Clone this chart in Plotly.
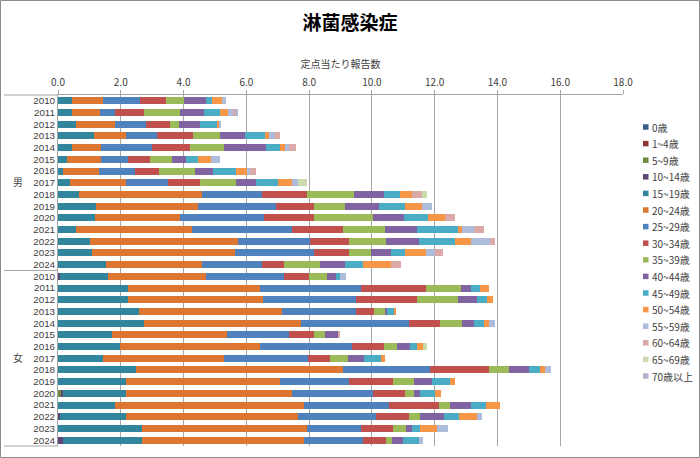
import plotly.graph_objects as go

title_text = "淋菌感染症"
axis_title = "定点当たり報告数"
groups = ["男"] * 15 + ["女"] * 15
years = [str(y) for y in range(2010, 2025)] * 2

age_labels = ["0歳", "1~4歳", "5~9歳", "10~14歳", "15~19歳", "20~24歳", "25~29歳",
              "30~34歳", "35~39歳", "40~44歳", "45~49歳", "50~54歳", "55~59歳",
              "60~64歳", "65~69歳", "70歳以上"]

# values: 男 2010..2024, then 女 2010..2024
age_0 = [0] * 30
age_1_4 = [0] * 30
age_5_9 = [0] * 15 + [0, 0, 0, 0, 0, 0, 0, 0, 0, 0, 0.08, 0, 0, 0, 0]
age_10_14 = [0] * 15 + [0.07, 0, 0, 0, 0, 0, 0, 0, 0, 0, 0.08, 0, 0.07, 0, 0.16]
age_15_19 = [0.45, 0.45, 0.58, 1.15, 0.45, 0.30, 0.16, 0.38, 0.66, 1.22, 1.17, 0.58, 1.01, 1.08, 1.52,
             1.52, 2.22, 2.22, 2.58, 2.73, 1.72, 1.99, 1.44, 2.50, 2.16, 2.00, 1.81, 2.09, 2.68, 2.52]
age_20_24 = [0.98, 0.90, 1.25, 1.01, 0.91, 1.06, 1.15, 1.78, 3.92, 3.24, 2.71, 3.69, 4.71, 4.56, 3.06,
             3.14, 4.21, 4.30, 4.57, 5.00, 3.67, 4.44, 3.85, 6.58, 4.91, 5.31, 6.03, 5.47, 5.24, 5.16]
age_25_29 = [1.19, 0.46, 0.98, 0.98, 1.64, 0.86, 1.14, 1.35, 1.91, 2.48, 2.69, 3.19, 2.31, 2.51, 1.91,
             2.47, 3.22, 2.98, 2.34, 3.44, 1.98, 2.93, 2.66, 2.78, 2.21, 2.55, 2.72, 2.50, 1.73, 1.89]
age_30_34 = [0.82, 0.93, 0.75, 1.15, 1.22, 0.72, 0.78, 1.01, 1.44, 1.21, 1.57, 1.63, 1.25, 1.12, 0.71,
             0.81, 2.07, 1.94, 0.57, 0.99, 0.77, 1.01, 0.70, 1.86, 1.38, 1.04, 1.59, 1.04, 1.01, 0.71]
age_35_39 = [0.56, 1.15, 0.31, 0.87, 1.06, 0.70, 1.14, 1.15, 1.50, 0.99, 1.88, 1.33, 1.16, 0.71, 1.14,
             0.57, 1.13, 1.30, 0.37, 0.71, 0.37, 0.43, 0.58, 0.66, 0.69, 0.27, 0.34, 0.35, 0.42, 0.21]
age_40_44 = [0.72, 0.77, 0.64, 0.79, 1.36, 0.43, 0.56, 0.64, 0.94, 1.09, 0.99, 1.03, 1.06, 0.64, 0.80,
             0.28, 0.32, 0.62, 0.06, 0.37, 0.43, 0.40, 0.51, 0.64, 0.58, 0.19, 0.66, 0.77, 0.21, 0.35]
age_45_49 = [0.20, 0.51, 0.58, 0.63, 0.43, 0.39, 0.74, 0.71, 0.51, 0.83, 0.78, 1.28, 1.15, 0.45, 0.58,
             0.13, 0.29, 0.30, 0.21, 0.32, 0, 0.23, 0.55, 0.32, 0.56, 0.50, 0.49, 0.50, 0.23, 0.51]
age_50_54 = [0.29, 0.24, 0.03, 0.15, 0.16, 0.40, 0.34, 0.43, 0.39, 0.53, 0.55, 0.14, 0.51, 0.64, 0.90,
             0, 0.27, 0.20, 0.07, 0.18, 0, 0.21, 0.14, 0.16, 0.16, 0.18, 0.43, 0.55, 0.57, 0]
age_55_59 = [0.15, 0.15, 0.08, 0.19, 0.12, 0.29, 0.10, 0.21, 0, 0.32, 0, 0.37, 0.61, 0.30, 0,
             0.17, 0, 0, 0, 0.19, 0, 0, 0, 0.21, 0, 0, 0, 0.16, 0.32, 0.13]
age_60_64 = [0, 0.10, 0, 0.16, 0.23, 0, 0.19, 0, 0.32, 0, 0.32, 0.32, 0.16, 0.26, 0.30,
             0, 0, 0, 0, 0, 0.05, 0, 0, 0, 0, 0, 0, 0, 0, 0]
age_65_69 = [0, 0, 0, 0, 0, 0, 0, 0.27, 0.18, 0, 0, 0, 0, 0, 0,
             0, 0, 0, 0, 0, 0, 0.13, 0, 0, 0, 0, 0, 0, 0, 0]
age_70 = [0, 0.06, 0, 0, 0, 0, 0, 0, 0, 0, 0, 0, 0, 0, 0,
          0, 0, 0, 0, 0, 0, 0, 0, 0, 0, 0, 0, 0, 0, 0]

series = [age_0, age_1_4, age_5_9, age_10_14, age_15_19, age_20_24, age_25_29, age_30_34,
          age_35_39, age_40_44, age_45_49, age_50_54, age_55_59, age_60_64, age_65_69, age_70]

colors = ["#385D8A", "#8C3836", "#71893F", "#5C4776", "#31859C", "#DC7630",
          "#4F81BD", "#C0504D", "#9BBB59", "#8064A2", "#4BACC6", "#F79646",
          "#ADBCDB", "#DBA9A8", "#CCDBAD", "#B9AFCF"]

FONT = "Noto Sans CJK JP"
YFONT = "Liberation Sans, Noto Sans CJK JP"
TXT = "#404040"
GRID = "#A6A6A6"

fig = go.Figure()
for name, vals, col in zip(age_labels, series, colors):
    fig.add_trace(go.Bar(
        x=vals, y=[groups, years], orientation="h", name=name,
        marker=dict(color=col, line=dict(width=0)), showlegend=False,
    ))

W, H = 700, 458
ml, mr, mt, mb = 58, 77, 95, 12
pw, ph = W - ml - mr, H - mt - mb

fig.update_layout(
    width=W, height=H,
    barmode="stack", bargap=0.4,
    paper_bgcolor="white", plot_bgcolor="white",
    margin=dict(l=ml, r=mr, t=mt, b=mb, autoexpand=False),
    font=dict(family=FONT, size=10, color=TXT),
    title=dict(text=title_text, x=0.5, xref="container", xanchor="center",
               y=1 - 23 / H, yref="container", yanchor="middle",
               font=dict(family=FONT, size=19, color="#000000", weight="bold")),
    xaxis=dict(side="top", range=[0, 18], dtick=2, tickformat=".1f",
               showgrid=True, gridcolor=GRID, gridwidth=1,
               showline=True, linecolor=GRID, ticks="outside", ticklen=4,
               tickcolor=GRID, zeroline=False, ticklabelstandoff=0,
               automargin=False,
               title=dict(text=axis_title, font=dict(size=10, color=TXT), standoff=3),
               tickfont=dict(size=10, color=TXT)),
    yaxis=dict(type="multicategory", autorange="reversed",
               tickmode="linear", tick0=0, dtick=1, automargin=False,
               showline=True, linecolor=GRID, showgrid=False,
               showdividers=False,
               tickfont=dict(family=YFONT, size=9.8, color=TXT), ticks=""),
    showlegend=False,
)

# group divider lines on the category side
for yp in (0.0, 0.5, 1.0):
    fig.add_shape(type="line", xref="paper", yref="paper",
                  x0=-(ml - 4) / pw, x1=0, y0=yp, y1=yp,
                  line=dict(color=GRID, width=1))

# legend drawn as swatch + label, stacked top to bottom
leg_top, leg_step = 127, 16.6
for i, (name, col) in enumerate(zip(age_labels, colors)):
    yc = leg_top + i * leg_step
    yp = 1 - (yc - mt) / ph
    fig.add_shape(type="rect", xref="paper", yref="paper",
                  x0=(643 - ml) / pw, x1=(648.5 - ml) / pw,
                  y0=yp - 2.75 / ph, y1=yp + 2.75 / ph,
                  line=dict(width=0), fillcolor=col)
    fig.add_annotation(text=name, xref="paper", yref="paper",
                       x=(650 - ml) / pw, y=yp, xanchor="left", yanchor="middle",
                       showarrow=False, font=dict(size=10, color=TXT))

# outer frame
fig.add_shape(type="rect", xref="paper", yref="paper",
              x0=-(ml - 0.5) / pw, x1=(W - ml - 0.5) / pw,
              y0=-(mb - 0.5) / ph, y1=(ph + mt - 0.5) / ph,
              line=dict(color="#8C8C8C", width=1), fillcolor="rgba(0,0,0,0)", layer="above")

fig.write_html("out.html", config={"displayModeBar": False},
               post_script="document.body.style.margin='0';document.body.style.overflow='hidden';")
